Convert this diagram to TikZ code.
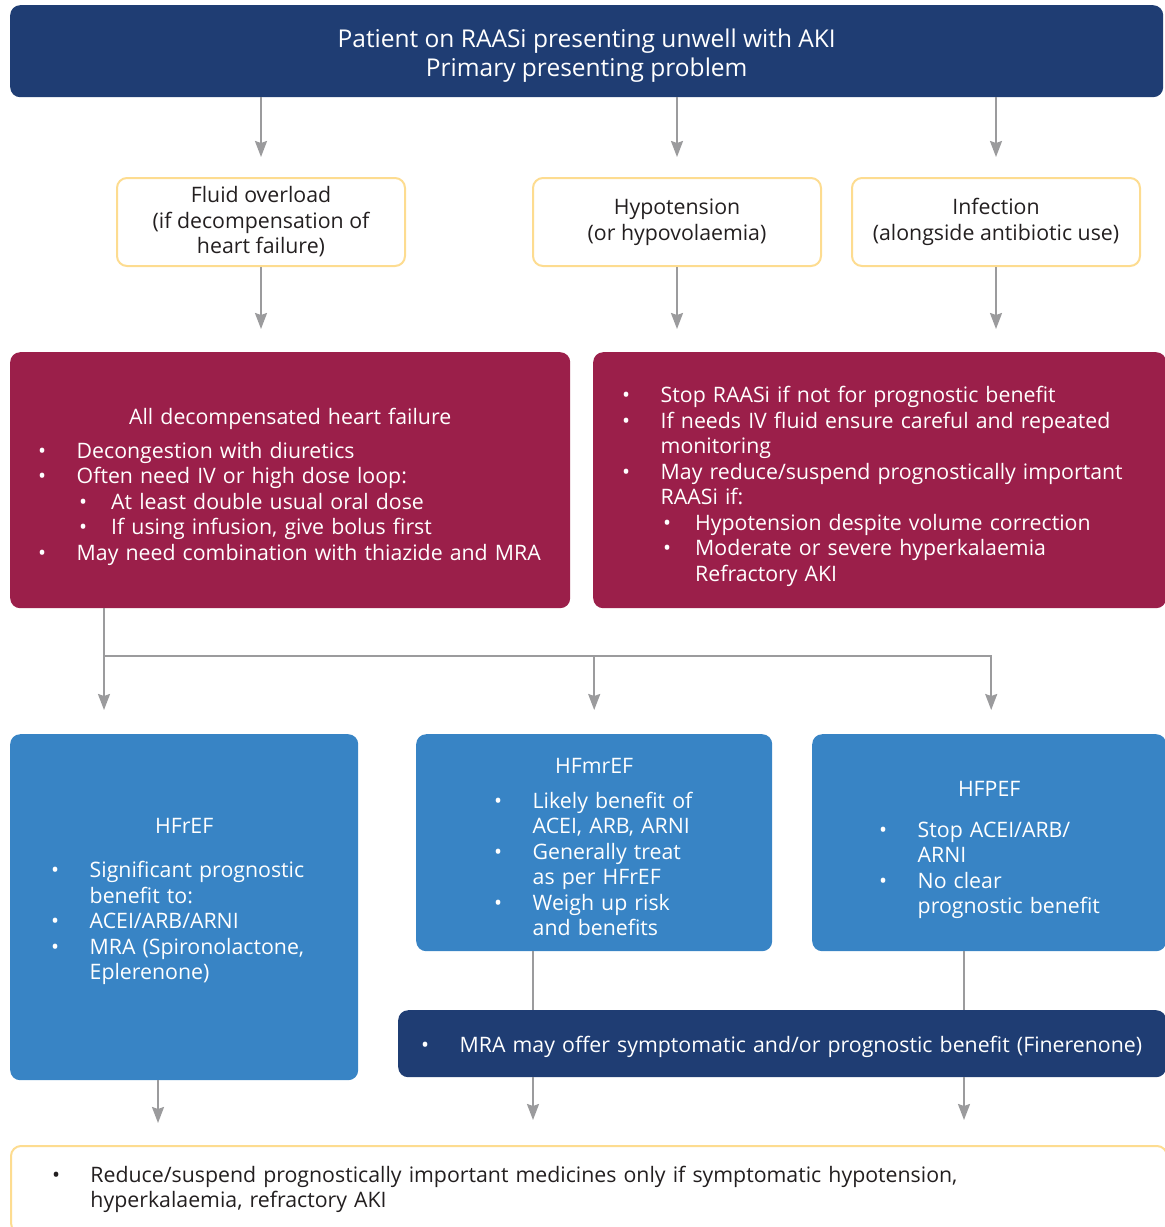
\documentclass[tikz,border=0pt]{standalone}
\usepackage{fontspec}
\setmainfont{Open Sans}
\usetikzlibrary{positioning, calc, arrows.meta}

\definecolor{navyblue}{HTML}{1F3D73}
\definecolor{wine}{HTML}{9B1F4A}
\definecolor{midblue}{HTML}{3884C5}
\definecolor{paleyellow}{HTML}{FDDC90}
\definecolor{arrowgray}{HTML}{9B9B9D}
\definecolor{inkgray}{HTML}{231F20}

\newcommand{\bodyfont}{\fontsize{21.3}{25.5}\selectfont}
\newcommand{\headfont}{\fontsize{24.5}{29}\selectfont}
% bullet lines, sub bullet lines, continuation lines, centred heading
\newcommand{\bpt}[1]{\mbox{\makebox[38.5pt][l]{\textbullet}#1}}
\newcommand{\sbpt}[1]{\mbox{\hspace{41pt}\makebox[32pt][l]{\textbullet}#1}}
\newcommand{\cpt}[1]{\mbox{\hspace{38.5pt}#1}}
\newcommand{\scpt}[1]{\mbox{\hspace{73pt}#1}}
\newcommand{\ctr}[1]{\makebox[\linewidth][c]{#1}}
% extra room above the first line / below the last line
\newcommand{\topgap}[1]{\rule{0pt}{#1}}
\newcommand{\botgap}[1]{\rule[-#1]{0pt}{#1}}

\begin{document}
\begin{tikzpicture}[x=1pt, y=-1pt, font=\bodyfont,
    box/.style={anchor=north west, rounded corners=10pt, inner ysep=0pt},
    headbox/.style={box, fill=navyblue, text=white, align=center, font=\headfont},
    probbox/.style={box, draw=paleyellow, line width=2pt, fill=white, text=inkgray,
        align=center, minimum width=288pt, minimum height=88pt},
    actbox/.style={box, fill=wine, text=white, align=left, minimum height=256pt},
    typebox/.style={box, fill=midblue, text=white, align=left},
    notebox/.style={box, fill=navyblue, text=white, align=left},
    advicebox/.style={box, draw=paleyellow, line width=2pt, fill=white, text=inkgray, align=left},
    arr/.style={draw=arrowgray, line width=2pt, -{Stealth[length=16pt, width=12pt, inset=2pt]}},
    link/.style={draw=arrowgray, line width=2pt}]

    % page frame (the reference is cut on the right and at the bottom)
    \useasboundingbox (0,0) rectangle (1165,1227);
    \clip (0,0) rectangle (1165,1227);

    % Presenting problem banner
    \node[headbox, minimum width=1153pt, minimum height=92pt] (aki) at (10,5)
        {\topgap{26.6pt}Patient on RAASi presenting unwell with AKI\\Primary presenting problem};

    % Three presenting causes
    \node[probbox] (fluid) at (116,177) {Fluid overload\\(if decompensation of\\heart failure)};
    \node[probbox] (hypo) at (532,177) {Hypotension\\(or hypovolaemia)};
    \node[probbox] (infect) at (851,177) {Infection\\(alongside antibiotic use)};

    % Management boxes
    \node[actbox, text width=504pt, inner xsep=28pt] (decomp) at (10,352)
        {\topgap{30pt}\ctr{All decompensated heart failure}\\[8pt]
         \bpt{Decongestion with diuretics}\\
         \bpt{Often need IV or high dose loop:}\\
         \sbpt{At least double usual oral dose}\\
         \sbpt{If using infusion, give bolus first}\\
         \bpt{May need combination with thiazide and MRA}};
    \node[actbox, text width=515pt, inner xsep=29pt] (raasi) at (593,352)
        {\topgap{29pt}\bpt{Stop RAASi if not for prognostic benefit}\\
         \bpt{If needs IV fluid ensure careful and repeated}\\
         \cpt{monitoring}\\
         \bpt{May reduce/suspend prognostically important}\\
         \cpt{RAASi if:}\\
         \sbpt{Hypotension despite volume correction}\\
         \sbpt{Moderate or severe hyperkalaemia}\\
         \scpt{Refractory AKI}};

    % Heart failure phenotypes
    \node[typebox, text width=266pt, inner xsep=41pt, minimum height=346pt] (hfref) at (10,734)
        {\ctr{HFrEF}\\[19pt]
         \bpt{Significant prognostic}\\
         \cpt{benefit to:}\\
         \bpt{ACEI/ARB/ARNI}\\
         \bpt{MRA (Spironolactone,}\\
         \cpt{Eplerenone)\botgap{17pt}}};
    \node[typebox, text width=200pt, inner xsep=78pt, minimum height=217pt] (hfmref) at (416,734)
        {\topgap{24pt}\ctr{HFmrEF}\\[9pt]
         \bpt{Likely benefit of}\\
         \cpt{ACEI, ARB, ARNI}\\
         \bpt{Generally treat}\\
         \cpt{as per HFrEF}\\
         \bpt{Weigh up risk}\\
         \cpt{and benefits}};
    \node[typebox, text width=220pt, inner xsep=67pt, minimum height=217pt] (hfpef) at (812,734)
        {\topgap{30pt}\ctr{HFPEF}\\[15pt]
         \bpt{Stop ACEI/ARB/}\\
         \cpt{ARNI}\\
         \bpt{No clear}\\
         \cpt{prognostic benefit}};

    % MRA note under HFmrEF and HFPEF
    \node[notebox, text width=722pt, inner xsep=23pt, minimum height=67pt] (mra) at (398,1010)
        {\topgap{22pt}\bpt{MRA may offer symptomatic and/or prognostic benefit (Finerenone)}};

    % Final advice
    \node[advicebox, text width=1074pt, inner xsep=41pt, minimum height=87pt] (advice) at (10,1145)
        {\bpt{Reduce/suspend prognostically important medicines only if symptomatic hypotension,}\\
         \cpt{hyperkalaemia, refractory AKI}};

    % Arrows from the banner to the causes
    \foreach \n in {fluid, hypo, infect}
        \draw[arr, shorten >=20pt] (aki.south -| \n.north) -- (\n.north);

    % Arrows from the causes to the management boxes
    \draw[arr, shorten >=23pt] (fluid.south) -- (fluid.south |- decomp.north);
    \draw[arr, shorten >=23pt] (hypo.south) -- (hypo.south |- raasi.north);
    \draw[arr, shorten >=23pt] (infect.south) -- (infect.south |- raasi.north);

    % Branching to the three phenotypes
    \coordinate (branch) at ($(decomp.south west)+(94,48)$);
    \draw[arr, shorten >=24pt] (decomp.south -| branch) -- (branch |- hfref.north);
    \draw[arr, shorten >=24pt] (branch) -| ($(hfpef.north)+(2,0)$);
    \draw[arr, shorten >=24pt] (branch -| hfmref.north) -- (hfmref.north);

    % Links into the MRA note and down to the advice box
    \coordinate (refdrop) at ($(hfref.south west)+(148,0)$);
    \coordinate (mrefdrop) at ($(hfmref.south west)+(117,0)$);
    \coordinate (pefdrop) at ($(hfpef.south west)+(152,0)$);
    \draw[link] (mrefdrop) -- (mrefdrop |- mra.north);
    \draw[link] (pefdrop) -- (pefdrop |- mra.north);
    \draw[arr, shorten >=22pt] (refdrop) -- (refdrop |- advice.north);
    \draw[arr, shorten >=25pt] (mrefdrop |- mra.south) -- (mrefdrop |- advice.north);
    \draw[arr, shorten >=25pt] (pefdrop |- mra.south) -- (pefdrop |- advice.north);

\end{tikzpicture}
\end{document}
